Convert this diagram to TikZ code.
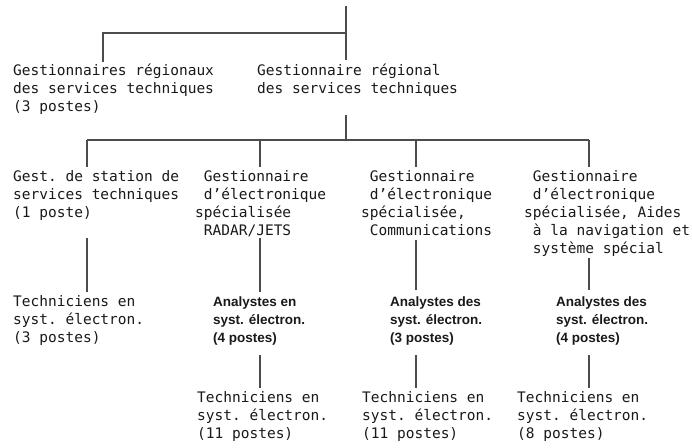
\documentclass[tikz,border=0pt]{standalone}
\usepackage{fontspec}
\setmonofont{DejaVu Sans Mono}
\newfontfamily\grasfont{Liberation Sans}
\usepackage{xcolor}

\tikzset{
  poste/.style={anchor=base west, inner sep=0pt, align=left, text=black!90,
    font=\ttfamily\fontsize{14.5}{18}\selectfont},
  analyste/.style={poste, font=\grasfont\bfseries\fontsize{13.5}{18}\selectfont},
  trait/.style={line width=1.2pt, black!70}
}
\newcommand{\ind}{\hphantom{x}}

\begin{document}
\begin{tikzpicture}[x=1pt, y=-1pt]
    \useasboundingbox (0,0) rectangle (692,447);
    % Niveau 1 (base de la derniere ligne)
    \coordinate (n0) at (346,6);
    \coordinate (n1) at (346,33);
    \coordinate (n2) at (346,60);
    \coordinate (n3) at (103,62);
    \draw[trait] (n0) -- (n2);
    \draw[trait] (n1) -| (n3);
    \node[poste] (gr3) at (13,111) {Gestionnaires régionaux\\des services techniques\\(3 postes)};
    \node[poste] (gr1) at (257,93) {Gestionnaire régional\\des services techniques};
    % Niveau 2
    \coordinate (m0) at (346,115);
    \coordinate (m1) at (346,140);
    \draw[trait] (m0) -- (m1);
    \foreach \x/\n in {87/1, 260/2, 416/3, 589/4} {
        \coordinate (col\n) at (\x,140);
        \draw[trait] (col\n) -- ++(0,27);
    }
    \draw[trait] (col1) -- (col4);
    \node[poste] (gest1) at (13,217) {Gest. de station de\\services techniques\\(1 poste)};
    \node[poste] (gest2) at (195,235) {\ind Gestionnaire\\\ind d’électronique\\spécialisée\\\ind RADAR/JETS};
    \node[poste] (gest3) at (361,235) {\ind Gestionnaire\\\ind d’électronique\\spécialisée,\\\ind Communications};
    \node[poste] (gest4) at (524,253) {\ind Gestionnaire\\\ind d’électronique\\spécialisée, Aides\\\ind à la navigation et\\\ind système spécial};
    % Niveau 3
    \foreach \x/\a/\b in {87/238/292, 260/238/292, 416/240/290, 589/258/290} {
        \coordinate (haut\x) at (\x,\a);
        \coordinate (bas\x) at (\x,\b);
        \draw[trait] (haut\x) -- (bas\x);
    }
    \node[poste] (tech1) at (13,342) {Techniciens en\\syst. électron.\\(3 postes)};
    \node[analyste] (ana2) at (213,342) {Analystes en\\syst. électron.\\(4 postes)};
    \node[analyste] (ana3) at (390,342) {Analystes des\\syst. électron.\\(3 postes)};
    \node[analyste] (ana4) at (556,342) {Analystes des\\syst. électron.\\(4 postes)};
    % Niveau 4
    \foreach \x in {260, 416, 589} {
        \coordinate (a\x) at (\x,355);
        \coordinate (b\x) at (\x,388);
        \draw[trait] (a\x) -- (b\x);
    }
    \node[poste] (tech2) at (197,438) {Techniciens en\\syst. électron.\\(11 postes)};
    \node[poste] (tech3) at (362,438) {Techniciens en\\syst. électron.\\(11 postes)};
    \node[poste] (tech4) at (517,438) {Techniciens en\\syst. électron.\\(8 postes)};
\end{tikzpicture}
\end{document}
